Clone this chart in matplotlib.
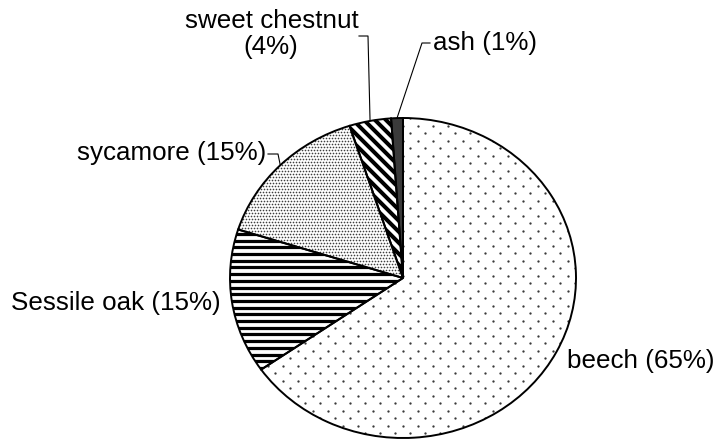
import numpy as np
import matplotlib.pyplot as plt

# share of tree species (%)
species = ['beech', 'Sessile oak', 'sycamore', 'sweet chestnut', 'ash']
shares = [65.3, 14.6, 15.1, 3.9, 1.1]

plt.rcParams['font.family'] = ['Liberation Sans', 'DejaVu Sans']

W, H = 713, 441
CX, CY, RX, RY = 403, 278, 173, 160   # pie centre / radii in pixels


def d(px, py):
    # pixel position (y down) -> axes data coords
    return (px - CX) / RX, (CY - py) / RY


fig = plt.figure(figsize=(W / 100, H / 100), dpi=100)
ax = fig.add_axes([(CX - RX) / W, 1 - (CY + RY) / H, 2 * RX / W, 2 * RY / H])

faces = ['white', 'white', 'white', 'white', '#3a3a3a']
wedges, _ = ax.pie(shares, startangle=90, counterclock=False, colors=faces,
                   wedgeprops=dict(linewidth=0))
ax.pie(shares, startangle=90, counterclock=False,
       wedgeprops=dict(fill=False, edgecolor='black', linewidth=1.4, zorder=3))
ax.set_aspect('auto')
ax.set_xlim(-1, 1)
ax.set_ylim(-1, 1)
ax.axis('off')

# beech: sparse staggered dots
pts = []
for k, yy in enumerate(np.arange(CY - RY, CY + RY + 1, 7.5)):
    for xx in np.arange(CX - RX + (k % 2) * 7.5, CX + RX + 1, 15):
        pts.append(d(xx, yy))
pts = np.array(pts)
sc = ax.scatter(pts[:, 0], pts[:, 1], s=2.8, c='#3a3a3a', linewidths=0, zorder=2)
sc.set_clip_path(wedges[0])

# sycamore: fine dots
pts = []
for k, yy in enumerate(np.arange(105, 295, 3.0)):
    for xx in np.arange(222 + (k % 2) * 1.5, 410, 3.0):
        pts.append(d(xx, yy))
pts = np.array(pts)
sc = ax.scatter(pts[:, 0], pts[:, 1], s=1.4, c='#404040', linewidths=0, zorder=2)
sc.set_clip_path(wedges[2])

# Sessile oak: horizontal stripes
for yy in np.arange(CY - RY + 2, CY + RY, 6.7):
    (x0, y0), (x1, y1) = d(220, yy), d(410, yy)
    ln, = ax.plot([x0, x1], [y0, y1], color='black', lw=2.3, zorder=2,
                  solid_capstyle='butt')
    ln.set_clip_path(wedges[1])

# sweet chestnut: diagonal stripes
for c in np.arange(-420, 120, 11):
    (x0, y0), (x1, y1) = d(320, 320 + c), d(420, 420 + c)
    ln, = ax.plot([x0, x1], [y0, y1], color='black', lw=2.9, zorder=2,
                  solid_capstyle='butt')
    ln.set_clip_path(wedges[3])


def anchor(i):
    w = wedges[i]
    t = np.deg2rad((w.theta1 + w.theta2) / 2)
    return np.cos(t), np.sin(t)


labels = ['%s (%d%%)' % (s, round(v)) for s, v in zip(species, shares)]
fs = 18.7

ax.text(*d(567, 361), labels[0], ha='left', va='center', fontsize=fs)
ax.text(*d(221, 303), labels[1], ha='right', va='center', fontsize=fs)
ax.text(*d(266, 153), labels[2], ha='right', va='center', fontsize=fs)
ax.text(*d(272, 21), species[3], ha='center', va='center', fontsize=fs)
ax.text(*d(271, 47), '(%d%%)' % round(shares[3]), ha='center', va='center', fontsize=fs)
ax.text(*d(433, 43), labels[4], ha='left', va='center', fontsize=fs)

# leader lines: text end -> elbow -> wedge middle
leaders = [
    (2, [d(268, 154), d(278, 154)]),
    (3, [d(359, 36), d(368, 36)]),
    (4, [d(430, 43), d(422, 43)]),
]
for i, pts2 in leaders:
    xs = [p[0] for p in pts2] + [anchor(i)[0]]
    ys = [p[1] for p in pts2] + [anchor(i)[1]]
    ax.plot(xs, ys, color='black', lw=0.8, clip_on=False, zorder=4)

fig.savefig('out.png', dpi=100)
